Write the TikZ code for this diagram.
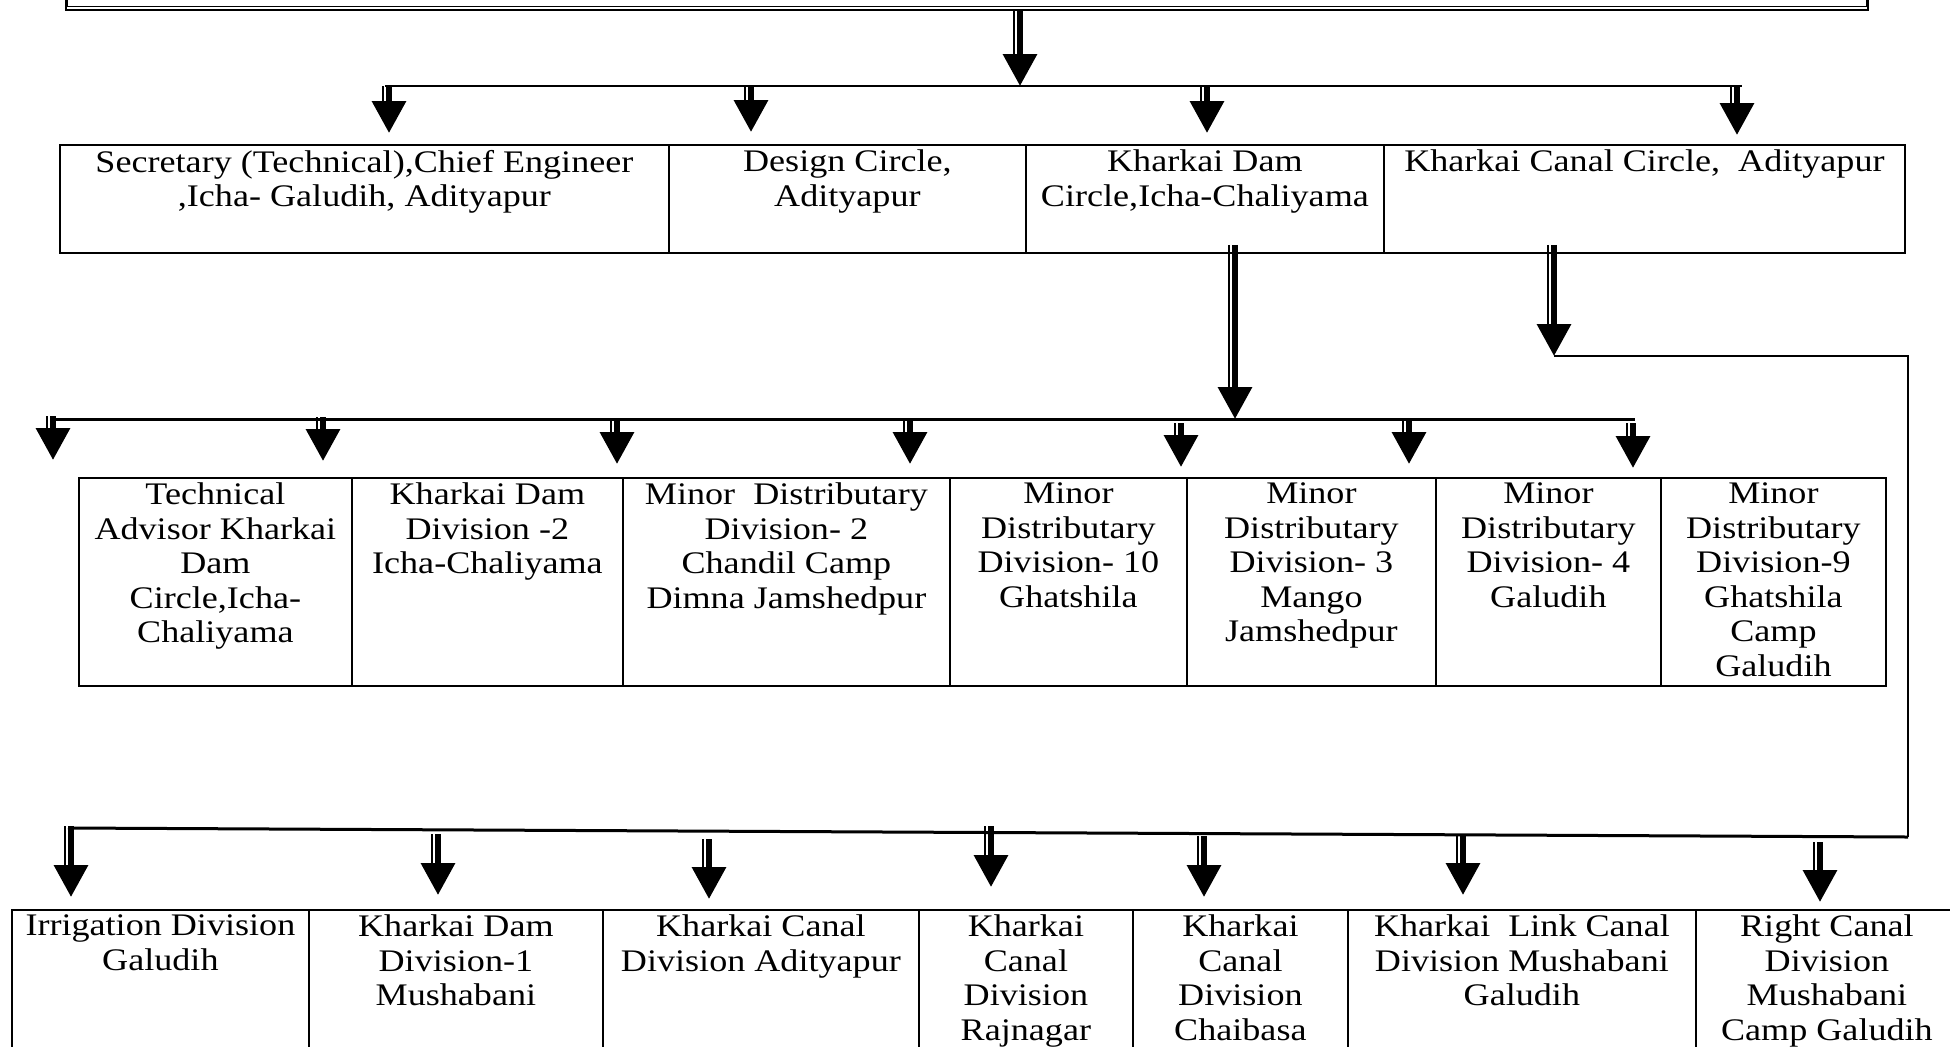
\documentclass[tikz,border=0pt]{standalone}
\usepackage{fontspec}
\setmainfont{Liberation Serif}[FakeStretch=1.15]
\usetikzlibrary{arrows.meta,calc}
\begin{document}
\begin{tikzpicture}[x=0.5pt,y=-0.5pt,font=\fontsize{15.7}{17.25}\selectfont,
    cell/.style n args={3}{draw,line width=0.9pt,anchor=north west,inner sep=0pt,minimum width=#1*0.5pt,minimum height=#2*0.5pt,
      label={[anchor=north,align=center,inner sep=2.8pt]north:#3}},
    bigarrow/.style={line width=3.2pt,-{Triangle[width=16.5pt,length=16pt]},
      postaction={draw,-,line width=1.1pt,shorten >=14pt,transform canvas={xshift=-2.9pt}}},
    bus/.style={line width=1.5pt}]
  \useasboundingbox (0,0) rectangle (1950,1046); \clip (0,0) rectangle (1950,1046);
  % top box
  \node[draw,line width=1.2pt,anchor=north west,inner sep=0pt,minimum width=901pt,minimum height=44.25pt] (head) at (65,-80) {};
  \draw[line width=0.5pt] ([shift={(1.4pt,2.25pt)}]head.south west) rectangle ([shift={(-1.4pt,-2pt)}]head.north east);
  % circles
  \node[cell={609}{108}{Secretary (Technical),Chief Engineer\\,Icha- Galudih, Adityapur}] (sec) at (59,144) {};
  \node[cell={357}{108}{Design Circle,\\Adityapur}] (design) at (668,144) {};
  \node[cell={358}{108}{Kharkai Dam\\Circle,Icha-Chaliyama}] (damcircle) at (1025,144) {};
  \node[cell={521}{108}{Kharkai Canal Circle,\ \ Adityapur}] (canalcircle) at (1383,144) {};
  % dam divisions
  \node[cell={273}{208}{Technical\\Advisor Kharkai\\Dam\\Circle,Icha-\\Chaliyama}] (techadv) at (78,477) {};
  \node[cell={271}{208}{Kharkai Dam\\Division -2\\Icha-Chaliyama}] (damdiv2) at (351,477) {};
  \node[cell={327}{208}{Minor\ \ Distributary\\Division- 2\\Chandil Camp\\Dimna Jamshedpur}] (mdd2) at (622,477) {};
  \node[cell={237}{208}{Minor\\Distributary\\Division- 10\\Ghatshila}] (mdd10) at (949,477) {};
  \node[cell={249}{208}{Minor\\Distributary\\Division- 3\\Mango\\Jamshedpur}] (mdd3) at (1186,477) {};
  \node[cell={225}{208}{Minor\\Distributary\\Division- 4\\Galudih}] (mdd4) at (1435,477) {};
  \node[cell={225}{208}{Minor\\Distributary\\Division-9\\Ghatshila\\Camp\\Galudih}] (mdd9) at (1660,477) {};
  % canal divisions
  \node[cell={297}{200}{Irrigation Division\\Galudih}] (irrdiv) at (11,909) {};
  \node[cell={294}{200}{Kharkai Dam\\Division-1\\Mushabani}] (damdiv1) at (308,909) {};
  \node[cell={316}{200}{Kharkai Canal\\Division Adityapur}] (canaladi) at (602,909) {};
  \node[cell={214}{200}{Kharkai\\Canal\\Division\\Rajnagar}] (canalraj) at (918,909) {};
  \node[cell={215}{200}{Kharkai\\Canal\\Division\\Chaibasa}] (canalchai) at (1132,909) {};
  \node[cell={348}{200}{Kharkai\ \ Link Canal\\Division Mushabani\\Galudih}] (linkcanal) at (1347,909) {};
  \node[cell={262}{200}{Right Canal\\Division\\Mushabani\\Camp Galudih}] (rightcanal) at (1695,909) {};
  % buses
  \coordinate (busA-w) at (385,86); \coordinate (busA-e) at (1742,86);
  \coordinate (busB-w) at (51,419); \coordinate (busB-e) at (1635,419);
  \coordinate (route-a) at (1554,356); \coordinate (route-b) at (1908,356);
  \coordinate (route-c) at (1908,837); \coordinate (busC-w) at (68,828);
  \draw[line width=1.1pt] (busA-w) -- (busA-e);
  \draw[bus] (busB-w) -- (busB-e);
  \draw[line width=0.9pt] (route-a) -- (route-b) -- (route-c);
  \draw[bus] (route-c) -- (busC-w);
  % arrows
  \draw[bigarrow] (head.south -| 1020,0) -- (1020,0 |- busA-w);
  \foreach \x/\g/\n in {389/11/sec,751/12/design,1207/11/damcircle,1737/9/canalcircle}
    \draw[bigarrow] (\x,0 |- busA-w) -- ($(\x,0 |- \n.north)+(0,-\g)$);
  \draw[bigarrow] ($(1235,0 |- damcircle.south)+(0,-9)$) -- (1235,0 |- busB-w);
  \draw[bigarrow] ($(1554,0 |- canalcircle.south)+(0,-9)$) -- (route-a);
  \foreach \x/\s/\g/\n in {53/-3/17/techadv,323/-2/16/damdiv2,617/1/13/mdd2,910/1/13/mdd10,1181/4/10/mdd3,1409/1/13/mdd4,1633/4/9/mdd9}
    \draw[bigarrow] ($(\x,0 |- busB-w)+(0,\s)$) -- ($(\x,0 |- \n.north)+(0,-\g)$);
  \foreach \x/\s/\g/\n in {71/-2/12/irrdiv,438/6/14/damdiv1,709/11/10/canaladi,991/-2/22/canalraj,1204/8/12/canalchai,1463/7/14/linkcanal,1820/14/7/rightcanal}
    \draw[bigarrow] ($(\x,0 |- busC-w)+(0,\s)$) -- ($(\x,0 |- \n.north)+(0,-\g)$);
\end{tikzpicture}
\end{document}
